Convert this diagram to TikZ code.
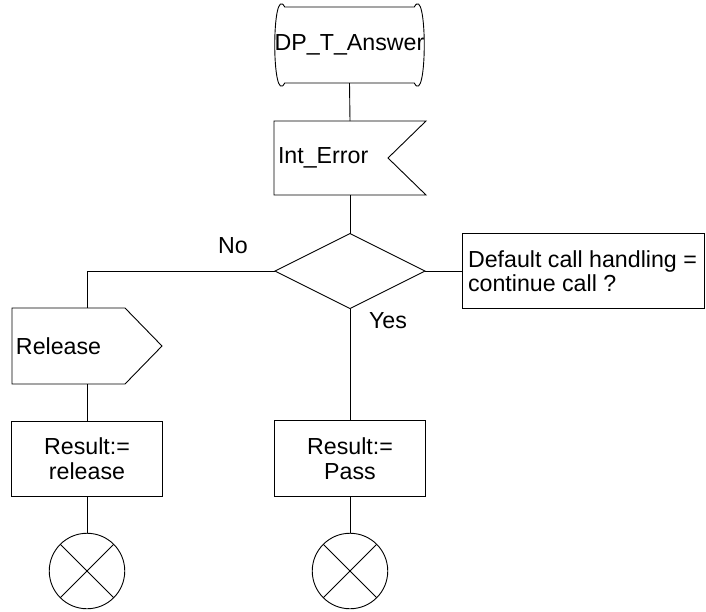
\documentclass[tikz,border=0pt]{standalone}
\usepackage{fontspec}
\setmainfont{Liberation Sans}
\begin{document}
\begin{tikzpicture}[x=1pt,y=-1pt,
  line width=0.9pt,
  every node/.style={font=\fontsize{23.2}{24}\selectfont},
  ghost/.style={draw=none,inner sep=0pt,outer sep=0pt},
  plainbox/.style={draw,inner sep=0pt,outer sep=0pt,minimum width=150.5pt,minimum height=75.5pt,align=center,font=\fontsize{23.2}{25}\selectfont},
  term/.style={draw,circle,inner sep=0pt,outer sep=0pt,minimum size=75.5pt},
  conn/.style={line width=0.9pt}]
\useasboundingbox (0,0) rectangle (706,611);

% start state
\node[ghost,minimum width=149pt,minimum height=76pt] (state) at (349.5,45) {DP\_T\_Answer};
\draw ([xshift=10pt]state.north west) -- ([xshift=-10pt]state.north east)
  .. controls ([xshift=3.3pt,yshift=25pt]state.north east) and ([xshift=3.3pt,yshift=-25pt]state.south east) .. ([xshift=-10pt]state.south east)
  -- ([xshift=10pt]state.south west)
  .. controls ([xshift=-3.3pt,yshift=-25pt]state.south west) and ([xshift=-3.3pt,yshift=25pt]state.north west) .. cycle;

% input signal
\node[ghost,minimum width=152pt,minimum height=74pt,text width=144pt,align=left,inner xsep=4pt] (interr) at (350,158) {Int\_Error};
\draw (interr.north west) -- (interr.north east) -- ([xshift=-38pt]interr.east) -- (interr.south east) -- (interr.south west) -- cycle;

% decision
\node[ghost,minimum width=150pt,minimum height=75pt] (dec) at (350,271) {};
\draw (dec.north) -- (dec.east) -- (dec.south) -- (dec.west) -- cycle;

% comment
\node[ghost,minimum width=242.5pt,minimum height=75pt] (comment) at (583.25,271) {};
\draw (comment.north west) rectangle (comment.south east);
\node[ghost,anchor=west,align=left] (commenttext) at ([xshift=6pt]comment.west) {Default call handling =\\continue call ?};

% output signal
\node[ghost,minimum width=150pt,minimum height=76pt,text width=142pt,align=left,inner xsep=4pt] (release) at (87,346) {Release};
\draw (release.north west) -- ([xshift=-37pt]release.north east) -- (release.east) -- ([xshift=-37pt]release.south east) -- (release.south west) -- cycle;

% tasks
\node[plainbox] (resrel) at (87,459) {Result:=\\release};
\node[plainbox] (respass) at (350,458.5) {Result:=\\Pass};

% terminators
\node[term] (termA) at (87,571) {};
\node[term] (termB) at (350,571) {};
\draw (termA.north west) -- (termA.south east) (termA.north east) -- (termA.south west);
\draw (termB.north west) -- (termB.south east) (termB.north east) -- (termB.south west);

% labels
\node[ghost] (nolbl) at (233,246) {No};
\node[ghost] (yeslbl) at (388,321) {Yes};

% connectors
\draw[conn] (state.south) -- (interr.north);
\draw[conn] (interr.south) -- (dec.north);
\draw[conn] (dec.east) -- (comment.west);
\draw[conn] (dec.west) -| (release.north);
\draw[conn] (release.south) -- (resrel.north);
\draw[conn] (resrel.south) -- (termA.north);
\draw[conn] (dec.south) -- (respass.north);
\draw[conn] (respass.south) -- (termB.north);
\end{tikzpicture}
\end{document}
